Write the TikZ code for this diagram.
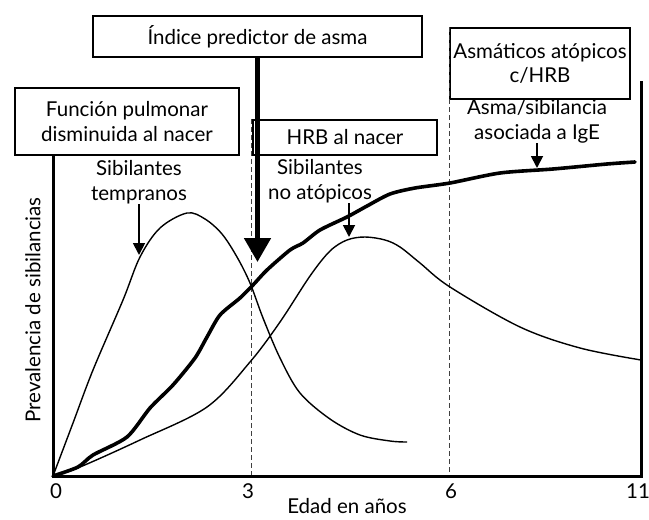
\documentclass[tikz,border=0pt]{standalone}
\usepackage{fontspec}
\setmainfont{Lato}
\usetikzlibrary{arrows.meta}
\tikzset{my box/.style={draw, line width=1.1pt, fill=white, align=center, inner sep=0pt},
my label/.style={align=center, inner sep=0pt, anchor=south},
my arrow/.style={line width=1.8pt, -{Triangle[width=12pt,length=12pt]}},
big arrow/.style={line width=5pt, -{Triangle[width=26pt,length=24pt]}},
axis line/.style={line width=3pt, line cap=rect},
guide line/.style={line width=1.1pt, dashed, dash pattern=on 5pt off 3pt, black!75},
thin curve/.style={line width=1.4pt, line join=round},
thick curve/.style={line width=3.6pt, line join=round, line cap=round},}

\begin{document}
\begin{tikzpicture}[x=1pt, y=-1pt, font=\fontsize{20.5}{24.5}\selectfont]
\useasboundingbox (0,0) rectangle (649,520);
\coordinate (origin) at (53,476);
\coordinate (xend) at (641,476);
\coordinate (xtop) at (641,82);
% boxes
\node [my box, minimum width=329pt, minimum height=41pt] (indice) at (257.5,36.5) {Índice predictor de asma};
\node [my box, minimum width=224pt, minimum height=67pt] (funcion) at (127,121.5) {Función pulmonar\\disminuida al nacer};
\node [my box, minimum width=184pt, minimum height=35pt] (hrb) at (345,137.5) {HRB al nacer};
\node [my box, minimum width=180pt, minimum height=71pt] (atopicos) at (540,63.5) {Asmáticos atópicos\\c/HRB};
% dashed guides
\draw [guide line] ([xshift=-1pt]hrb.north west) -- ([xshift=-1pt]hrb.north west |- origin);
\draw [guide line] (atopicos.north west) -- (atopicos.north west |- origin);
% axes
\draw [axis line] (funcion.south -| origin) -- (origin) -- (xend) -- (xtop);
\node (t0) at (56,491) {0};
\node (t3) at (248,491) {3};
\node (t6) at (451,491) {6};
\node (t11) at (638,491) {11};
\node (xlabel) at (347,506) {Edad en años};
\node [rotate=90] (ylabel) at (33,310) {Prevalencia de sibilancias};
% curves
\draw [thin curve] plot [smooth, tension=0.55] coordinates {(53,476) (73,423) (93,370) (123,300) (140,257) (160,228) (187,213) (205,219) (222,234) (237,257) (250,283) (263,318) (280,358) (300,393) (330,419) (360,435) (390,441) (407,442)};
\draw [thin curve] plot [smooth, tension=0.55] coordinates {(53,476) (80,467) (140,440) (207,407) (250,362) (280,322) (310,276) (330,251) (347,240) (365,237) (385,240) (400,247) (420,263) (450,287) (520,327) (580,348) (641,360)};
\draw [thick curve] plot [smooth, tension=0.45] coordinates {(53,476) (78,467) (93,455) (127,437) (150,408) (173,385) (195,358) (207,337) (220,315) (240,298) (253,285) (267,270) (290,250) (303,243) (320,230) (347,217) (367,206) (390,194) (415,188) (450,183) (500,173) (553,169) (607,164) (635,162)};
% curve labels
\node [my label] (temp) at (139,204) {Sibilantes\\tempranos};
\node [my label] (noatop) at (320,203) {Sibilantes\\no atópicos};
\node [my label] (ige) at (537,143) {Asma/sibilancia\\asociada a IgE};
\coordinate (tempTip) at (139,255);
\coordinate (noatopTip) at (349,237);
\coordinate (igeTip) at (537,168);
\coordinate (indiceTip) at (257.5,262);
\draw [my arrow] (temp.south) -- (tempTip);
\draw [my arrow] (noatopTip |- noatop.south) -- (noatopTip);
\draw [my arrow] (ige.south) -- (igeTip);
\draw [big arrow] (indice.south) -- (indiceTip);
\end{tikzpicture}
\end{document}
